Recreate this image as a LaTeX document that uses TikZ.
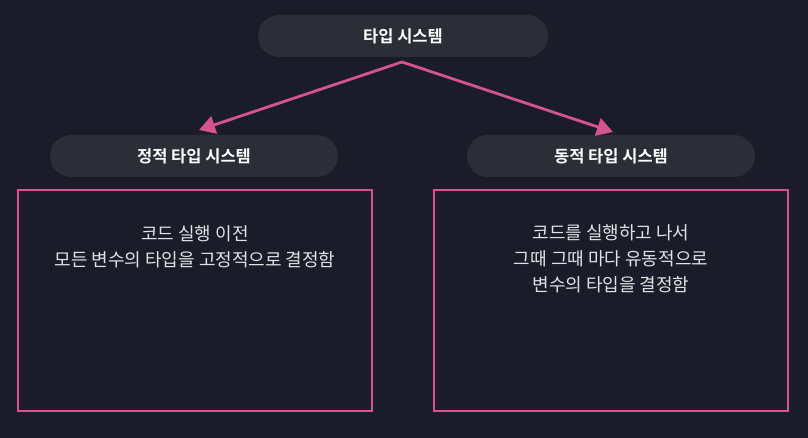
\documentclass[tikz,border=0pt]{standalone}
\usepackage{fontspec}
\setmainfont{Noto Sans CJK KR}
\newfontfamily\krbold{Noto Sans CJK KR Bold}
\usetikzlibrary{arrows.meta}
\definecolor{bg}{HTML}{1B1C29}
\definecolor{pill}{HTML}{2B2E36}
\definecolor{pinkc}{HTML}{D4548F}
\definecolor{txt}{HTML}{E2E2E4}
\tikzset{
  pillbox/.style={fill=pill, rounded corners=21pt, minimum width=290pt, minimum height=42pt, inner sep=0pt, text=white, font=\krbold\fontsize{16.5}{18}\selectfont},
  framebox/.style={draw=pinkc, line width=2.2pt, minimum width=354pt, minimum height=221pt, inner sep=0pt},
  bodytext/.style={text=txt, align=center, font=\fontsize{18}{25.8}\selectfont},
  conn/.style={draw=pinkc, line width=2.8pt, -{Triangle[length=16pt,width=18pt]}}
}
\begin{document}
\begin{tikzpicture}[x=1pt,y=-1pt]
\fill[bg] (0,0) rectangle (808,438);
\useasboundingbox (0,0) rectangle (808,438);
\node[pillbox] (top) at (403,36) {타입 시스템};
\node[pillbox, minimum width=288pt] (left) at (194,156) {정적 타입 시스템};
\node[pillbox, minimum width=288pt] (right) at (611,156) {동적 타입 시스템};
\coordinate (src) at (402,62);
\coordinate (la) at (199,130);
\coordinate (ra) at (613,132);
\draw[conn] (src) -- (la);
\draw[conn] (src) -- (ra);
\node[framebox] (lbox) at (195,300.5) {};
\node[framebox] (rbox) at (611,300.5) {};
\node[bodytext, anchor=north] (ltext) at (195,222) {코드 실행 이전\\모든 변수의 타입을 고정적으로 결정함};
\node[bodytext, anchor=north] (rtext) at (611,221) {코드를 실행하고 나서\\그때 그때 마다 유동적으로\\변수의 타입을 결정함};
\end{tikzpicture}
\end{document}
